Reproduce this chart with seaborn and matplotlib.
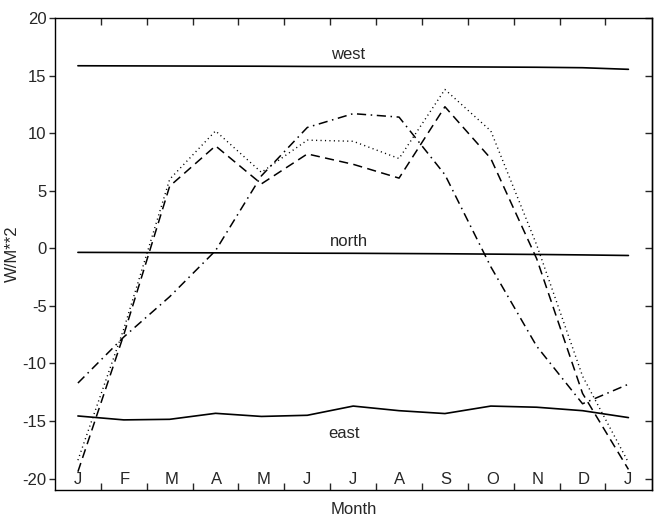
import numpy as np
import pandas as pd
import matplotlib
matplotlib.use("Agg")
import matplotlib.pyplot as plt
import seaborn as sns

# Monthly positions (Jan .. Dec, then Jan again)
month_pos = list(range(1, 14))
month_labels = ["J", "F", "M", "A", "M", "J", "J", "A", "S", "O", "N", "D", "J"]

# Flux curves, W/M**2
west = [15.86, 15.85, 15.84, 15.83, 15.82, 15.80, 15.79, 15.78, 15.77, 15.75, 15.73, 15.69, 15.55]
north = [-0.35, -0.36, -0.38, -0.39, -0.40, -0.42, -0.43, -0.45, -0.47, -0.50, -0.53, -0.57, -0.62]
east = [-14.56, -14.90, -14.85, -14.33, -14.60, -14.50, -13.70, -14.10, -14.35, -13.70, -13.80, -14.10, -14.70]
dotted_series = [-18.4, -7.0, 6.0, 10.2, 6.6, 9.4, 9.3, 7.8, 13.8, 10.2, 0.3, -11.1, -18.6]
dashed_series = [-19.4, -7.5, 5.4, 8.9, 5.6, 8.2, 7.3, 6.1, 12.3, 7.8, -0.9, -12.6, -19.2]
dashdot_series = [-11.7, -7.7, -4.2, -0.2, 6.3, 10.5, 11.7, 11.4, 6.4, -1.6, -8.5, -13.5, -11.8]

yticks = [-20, -15, -10, -5, 0, 5, 10, 15, 20]

sns.set_style("ticks")
plt.rcParams["font.family"] = ["Liberation Sans", "DejaVu Sans"]
plt.rcParams["font.size"] = 12

FS = 12

fig = plt.figure(figsize=(6.6, 5.17), dpi=100)
ax = fig.add_axes([0.0833, 0.052, 0.905, 0.913])

df = pd.DataFrame({"month": month_pos})

def draw(values, dashes, lw):
    line_df = df.assign(value=values)
    sns.lineplot(data=line_df, x="month", y="value", ax=ax, color="black",
                 linewidth=lw, legend=False)
    ln = ax.get_lines()[-1]
    if dashes is not None:
        ln.set_dashes(dashes)

draw(west, None, 1.2)
draw(north, None, 1.2)
draw(east, None, 1.2)
draw(dotted_series, (0.8, 2.4), 1.0)
draw(dashed_series, (6, 3.5), 1.1)
draw(dashdot_series, (6, 3, 1, 3), 1.1)

# curve names
ax.text(6.9, 16.8, "west", ha="center", va="center", fontsize=FS)
ax.text(6.9, 0.6, "north", ha="center", va="center", fontsize=FS)
ax.text(6.8, -16.1, "east", ha="center", va="center", fontsize=FS)

# month letters sit inside the frame along the bottom
for pos, lab in zip(month_pos, month_labels):
    ax.text(pos - 0.1, -20.1, lab, ha="left", va="center", fontsize=FS)

ax.set_xlim(0.5, 13.52)
ax.set_ylim(-21, 20)
ax.set_xticks(np.arange(1.5, 13.0, 1.0))
ax.set_xticklabels([])
ax.set_yticks(yticks)
ax.set_yticklabels([str(t) for t in yticks])

ax.tick_params(axis="x", direction="in", length=5, width=1, top=True, bottom=True)
ax.tick_params(axis="y", direction="out", length=4, width=1, left=True, right=False,
               labelsize=FS, pad=2)
right = ax.secondary_yaxis("right")
right.set_yticks(yticks)
right.tick_params(direction="in", length=5, width=1, labelright=False)
right.spines["right"].set_linewidth(1.0)

for s in ax.spines.values():
    s.set_linewidth(1.0)
    s.set_color("black")
    s.set_visible(True)

ax.set_xlabel("Month", fontsize=FS, labelpad=5)
ax.set_ylabel("W/M**2", fontsize=FS, labelpad=2)

fig.savefig("out.png", dpi=100)
